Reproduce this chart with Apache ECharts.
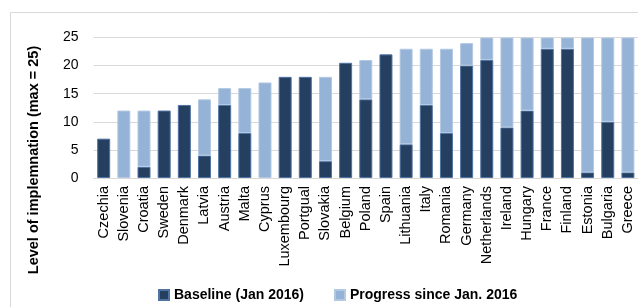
<!DOCTYPE html>
<html>
<head>
<meta charset="utf-8">
<script src="https://cdn.jsdelivr.net/npm/echarts@6/dist/echarts.min.js"></script>
<style>html,body{margin:0;padding:0;background:#fff;}#c{width:638px;height:307px;}</style>
</head>
<body>
<div id="c"></div>
<script>
const categories = ["Czechia","Slovenia","Croatia","Sweden","Denmark","Latvia","Austria","Malta","Cyprus","Luxembourg","Portgual","Slovakia","Belgium","Poland","Spain","Lithuania","Italy","Romania","Germany","Netherlands","Ireland","Hungary","France","Finland","Estonia","Bulgaria","Greece"];
const baseline = [7,0,2,12,13,4,13,8,0,18,18,3,20.5,14,22,6,13,8,20,21,9,12,23,23,1,10,1];
const progress = [0,12,10,0,0,10,3,8,17,0,0,15,0,7,0,17,10,15,4,4,16,13,2,2,24,15,24];
const yTicks = [0,5,10,15,20,25];
const seriesNames = ["Baseline (Jan 2016)","Progress since Jan. 2016"];
const yTitle = "Level of implemnation (max = 25)";

const font = "Liberation Sans, Arial, sans-serif";
const noZero = arr => arr.map(v => v === 0 ? null : v);
const chart = echarts.init(document.getElementById('c'), null, {renderer:'canvas'});
chart.setOption({
  animation:false,
  backgroundColor:'#fff',
  graphic:[
    {type:'rect', shape:{x:10.5,y:12.5,width:700,height:400}, style:{fill:'none',stroke:'#d9d9d9',lineWidth:1}, silent:true},
    {type:'text', x:33.5, y:160, rotation:Math.PI/2, style:{text:yTitle, font:'bold 14.5px '+font, fill:'#000', align:'center', verticalAlign:'middle'}}
  ],
  grid:{left:93.6, right:-1.5, top:37.5, bottom:129, containLabel:false},
  legend:{
    top:283, left:153, itemWidth:10, itemHeight:10, itemGap:30, icon:'rect',
    textStyle:{fontFamily:font, fontWeight:'bold', fontSize:14, color:'#000'},
    data:seriesNames
  },
  xAxis:{
    type:'category', data:categories,
    axisLine:{show:true, lineStyle:{color:'#d9d9d9', width:1}},
    axisTick:{show:false},
    axisLabel:{rotate:90, interval:0, margin:8, fontFamily:font, fontSize:14.5, color:'#000'}
  },
  yAxis:{
    type:'value', min:0, max:25, interval:5,
    axisLine:{show:false}, axisTick:{show:false},
    splitLine:{lineStyle:{color:'#d9d9d9', width:1}},
    axisLabel:{margin:15, fontFamily:font, fontSize:14, color:'#000',
      formatter:v=> yTicks.includes(v) ? String(v) : ''}
  },
  series:[
    {name:seriesNames[0], type:'bar', stack:'t', data:noZero(baseline), barWidth:13,
     itemStyle:{color:'#243f60', borderColor:'#4f73a3', borderWidth:1}},
    {name:seriesNames[1], type:'bar', stack:'t', data:noZero(progress), barWidth:13,
     itemStyle:{color:'#95b3d7', borderColor:'#b3c8e3', borderWidth:1}}
  ]
});
</script>
</body>
</html>
